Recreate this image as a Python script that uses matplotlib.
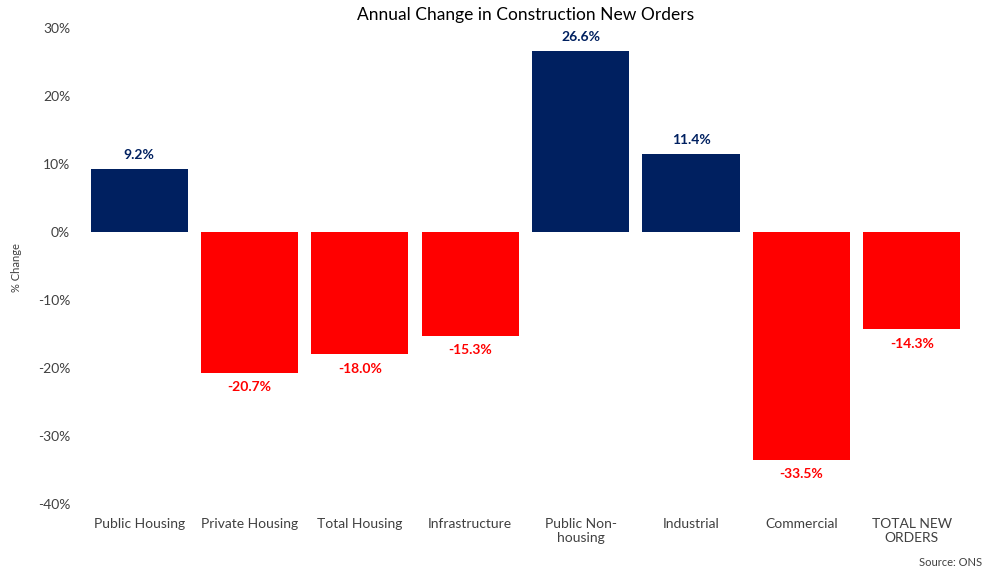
import matplotlib
matplotlib.use("Agg")
import matplotlib.pyplot as plt
from matplotlib.ticker import FuncFormatter

categories = ["Public Housing", "Private Housing", "Total Housing", "Infrastructure",
              "Public Non-\nhousing", "Industrial", "Commercial", "TOTAL NEW\nORDERS"]
values = [9.2, -20.7, -18.0, -15.3, 26.6, 11.4, -33.5, -14.3]
yticks = [-40, -30, -20, -10, 0, 10, 20, 30]

NAVY = "#002060"
RED = "#FF0000"
GRAY = "#404040"

plt.rcParams['font.family'] = ['Lato', 'DejaVu Sans']

fig = plt.figure(figsize=(9.87, 5.75), dpi=100)
ax = fig.add_axes([0.0851, 0.1235, 0.8946, 0.8278])

x = list(range(len(categories)))
colors = [NAVY if v >= 0 else RED for v in values]
ax.bar(x, values, width=0.88, color=colors)

for xi, v, c in zip(x, values, colors):
    if v >= 0:
        ax.annotate(f"{v:.1f}%", (xi, v), xytext=(0, 6), textcoords="offset points",
                    ha="center", va="bottom", color=c, fontsize=10, fontweight="bold")
    else:
        ax.annotate(f"{v:.1f}%", (xi, v), xytext=(0, -6), textcoords="offset points",
                    ha="center", va="top", color=c, fontsize=10, fontweight="bold")

ax.set_xlim(-0.5, len(categories) - 0.5)
ax.set_ylim(-40, 30)
ax.set_yticks(yticks)
ax.yaxis.set_major_formatter(FuncFormatter(lambda v, p: f"{v:.0f}%"))
ax.set_xticks(x)
ax.set_xticklabels(categories, fontsize=10, color=GRAY, linespacing=1.2)
ax.tick_params(axis='y', labelsize=10, labelcolor=GRAY, length=0, pad=10)
ax.tick_params(axis='x', length=0, pad=10)
for s in ax.spines.values():
    s.set_visible(False)

fig.text(17 / 987, 1 - 268 / 575, "% Change", rotation=90, ha="center", va="center",
         fontsize=8, color=GRAY)
ax.set_title("Annual Change in Construction New Orders", fontsize=12.5, color="black", pad=6)

fig.text(0.995, 0.012, "Source: ONS", ha="right", va="bottom", fontsize=8, color=GRAY)

fig.savefig("out.png", dpi=100)
